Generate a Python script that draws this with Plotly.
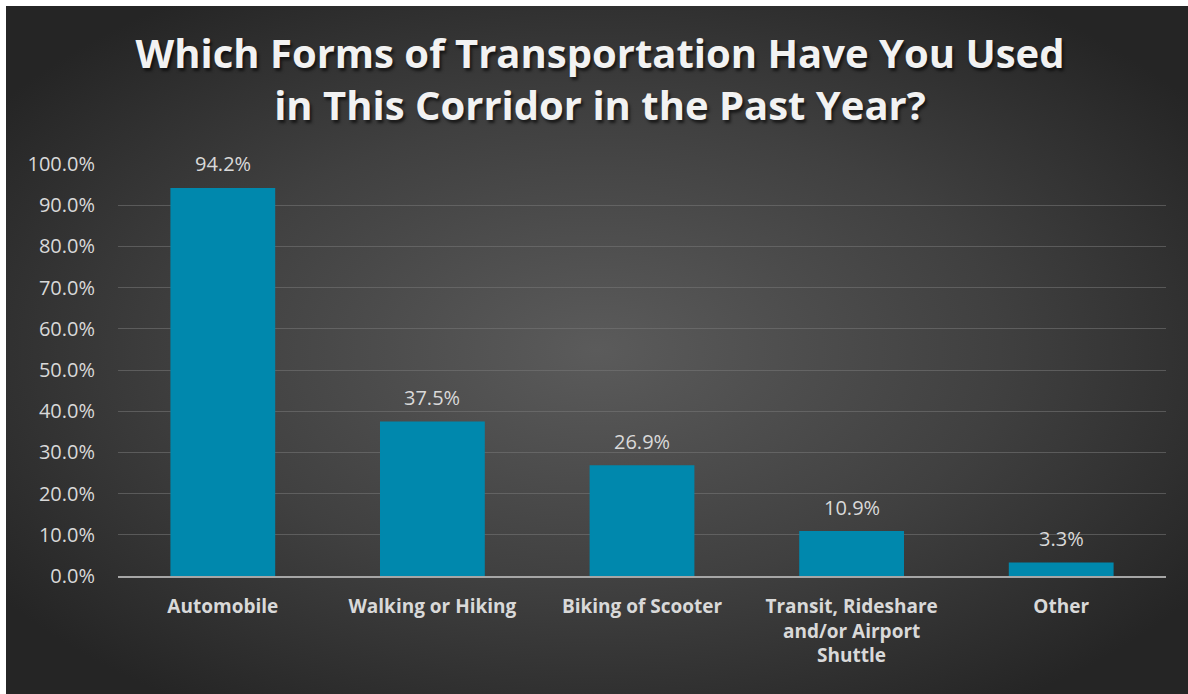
import base64
import plotly.graph_objects as go

# Survey results: share of respondents using each mode in the corridor
categories = [
    "Automobile",
    "Walking or Hiking",
    "Biking of Scooter",
    "Transit, Rideshare<br>and/or Airport<br>Shuttle",
    "Other",
]
shares = [94.2, 37.5, 26.9, 10.9, 3.3]
tick_values = [0, 10, 20, 30, 40, 50, 60, 70, 80, 90, 100]
tick_labels = [f"{v:.1f}%" for v in tick_values]

TEXT = "#d9d9d9"
BAR = "#0088ad"
FONT = "'Open Sans', Lato, sans-serif"

# Dark radial backdrop drawn as an SVG gradient
svg = (
    '<svg xmlns="http://www.w3.org/2000/svg" width="1182" height="688" '
    'preserveAspectRatio="none" viewBox="0 0 1182 688">'
    '<defs><radialGradient id="g" cx="0.5" cy="0.5" r="0.62">'
    '<stop offset="0" stop-color="#5b5b5b"/>'
    '<stop offset="0.55" stop-color="#404040"/>'
    '<stop offset="1" stop-color="#252525"/>'
    '</radialGradient></defs>'
    '<rect width="1182" height="688" fill="url(#g)"/></svg>'
)
bg_uri = "data:image/svg+xml;base64," + base64.b64encode(svg.encode()).decode()

fig = go.Figure(
    go.Bar(
        x=categories,
        y=shares,
        width=0.5,
        marker=dict(color=BAR, line=dict(width=0)),
        hoverinfo="skip",
    )
)

# Value labels floating above each bar
for cat, val in zip(categories, shares):
    fig.add_annotation(
        x=cat, y=val, text=f"{val:.1f}%",
        showarrow=False, yanchor="middle", yshift=24,
        font=dict(family=FONT, size=20, color=TEXT),
    )

# Plot area spans pixels x 118..1166, y 164..576
L, R, T, B = 118, 22, 164, 118
W, H = 1188 - L - R, 694 - T - B

fig.add_layout_image(
    source=bg_uri,
    xref="paper", yref="paper",
    x=(6 - L) / W, y=(694 - B - 6) / H,
    sizex=1182 / W, sizey=688 / H,
    xanchor="left", yanchor="top",
    sizing="stretch", layer="below",
)

fig.update_layout(
    width=1188,
    height=694,
    margin=dict(l=L, r=R, t=T, b=B),
    paper_bgcolor="white",
    plot_bgcolor="rgba(0,0,0,0)",
    showlegend=False,
    title=dict(
        text="Which Forms of Transportation Have You Used<br>in This Corridor in the Past Year?",
        x=600 / 1188, xref="container", xanchor="center",
        y=1 - 68 / 694, yref="container", yanchor="middle",
        font=dict(family=FONT, size=40, color="#f2f2f2", weight="bold",
                  shadow="2px 3px 3px rgba(0,0,0,0.6)"),
    ),
    xaxis=dict(
        showgrid=False,
        showline=True,
        linecolor="#a6a6a6",
        linewidth=2,
        ticks="",
        ticklabelstandoff=12,
        tickfont=dict(family=FONT, size=19, color=TEXT, weight="bold"),
        fixedrange=True,
    ),
    yaxis=dict(
        range=[0, 100],
        tickvals=tick_values,
        ticktext=tick_labels,
        tickfont=dict(family=FONT, size=20, color=TEXT),
        gridcolor="rgba(120,120,120,0.55)",
        gridwidth=1,
        zeroline=False,
        showline=False,
        ticks="",
        ticklabelstandoff=22,
        fixedrange=True,
    ),
)

fig.write_html("out.html")
